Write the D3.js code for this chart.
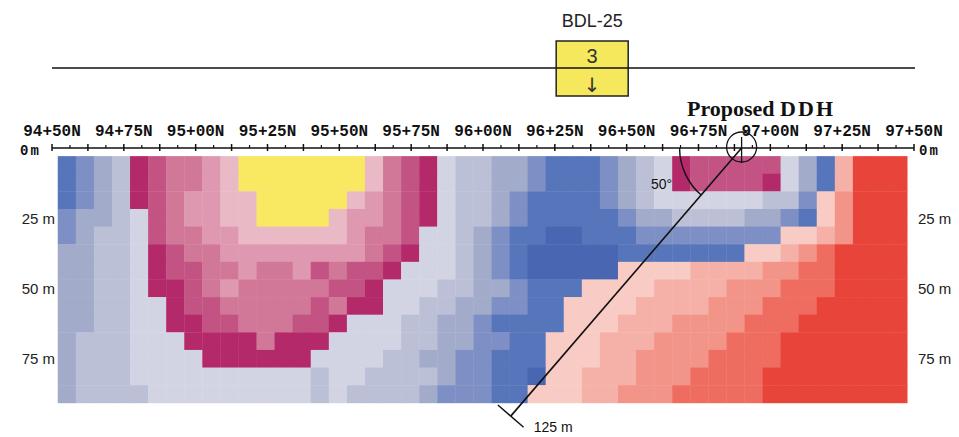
<!DOCTYPE html>
<html>
<head>
    <meta charset="UTF-8"/>
    <style>
        body {
            margin: 0;
            background: #fff;
        }

        svg {
            display: block;
        }

        .stn {
            font-family: "Liberation Mono", "DejaVu Sans Mono", monospace;
            font-size: 16px;
            font-weight: bold;
            fill: #111;
        }

        .zero {
            font-family: "Liberation Mono", "DejaVu Sans Mono", monospace;
            font-size: 14px;
            font-weight: bold;
            fill: #111;
        }

        .dep {
            font-family: "Liberation Sans", Arial, sans-serif;
            font-size: 15px;
            fill: #222;
        }
    </style>
</head>
<body>
<!-- Load d3.js -->
<script src="https://d3js.org/d3.v7.min.js"></script>
<div id="my_dataviz"></div>

<script>

    // stations along the line (metres) and their labels
    var stations = [9450, 9475, 9500, 9525, 9550, 9575, 9600, 9625, 9650, 9675, 9700, 9725, 9750];
    var stationLabels = ["94+50N", "94+75N", "95+00N", "95+25N", "95+50N", "95+75N", "96+00N",
        "96+25N", "96+50N", "96+75N", "97+00N", "97+25N", "97+50N"];
    var depthTicks = [25, 50, 75];

    // colour classes used in the section
    var classCodes = ["A", "B", "C", "D", "E", "F", "M", "N", "O", "P", "Q", "Y", "r", "s", "t", "u", "R"];
    var classColors = ["#4866b2", "#5675ba", "#7d8fc4", "#a2abca", "#bcc0d7", "#d3d4e3",
        "#b4296a", "#c35383", "#d17898", "#de98b0", "#e9b9c6", "#f8e862",
        "#f8cbc4", "#f5b0a8", "#f29488", "#ee6d60", "#e8443a"];

    // one string per row of cells, top to bottom, one letter per cell
    var sectionRows = [
        "BCDEMNOOPQYYYYYYYQONMFEEDDCBBBCDEFMNNNNNFDBsRRR",
        "BCDEMNOOPQYYYYYYYQONMFEEDDCBBBCDEFMNNNNMFDBsRRR",
        "BCDEMNOPPQQYYYYYQPONMFEEDCBBBBCDEFFFFFFEECrtRRR",
        "CDDEFNOPPQQYYYYQPPONMFEEDCBBBBBCDDEEEEDDCBrtRRR",
        "CDEEFNOOPPQQQQQQPOONFFEDCBBAABBBCCCCCCCCrrstRRR",
        "DDEEFMNOOPPPPPPPPONMFFEDCBAAAAABBBBBBBrrstuRRRR",
        "DDEEFMNNOOPOOPNONNMFFFEDCBAAAAArrrrssssttuuRRRR",
        "DDEEFMMNOPOOOOONNMFFFEEDDCBBBrrrrsssstttuuuRRRR",
        "DDEEFFMNNOOOOONOMMFFEEDDCCBBrrrrsssstttuuuRRRRR",
        "DDEEFFMMNNOOONNMFFFEEDDCBBBBrrrsssttttuuuRRRRRR",
        "DEEEFFFMMMMOMMMFFFFEEDDCCBBrrrsssttttuuuRRRRRRR",
        "DEEEFFFFMMMMMMFFFFEEDDCCBBBrrrssttttuuuuRRRRRRR",
        "DEEEFFFFFFFFFFEFFEEEEDCCBBArrssstttuuuuRRRRRRRR",
        "DEEEEFFFFFFFFFEFEEEEDCCCBBrrrsstttuuuuuRRRRRRRR"
    ];

    // proposed hole and existing hole above the line
    var holeStation = 9690, holeDip = 50, holeLength = 125;
    var oldHoleStation = 9638, oldHoleName = "BDL-25", oldHoleNumber = "3";

    var width = 959, height = 437;

    var svg = d3.select("#my_dataviz")
        .append("svg")
        .attr("width", width)
        .attr("height", height)
        .style("background", "#fff");

    // station -> x, depth -> y
    var x = d3.scaleLinear().domain([9450, 9750]).range([52, 914]);
    var y = d3.scaleLinear().domain([0, 75]).range([148, 358]);

    // extent of the cell grid in stations / metres
    var gridLeft = 9452, gridRight = 9747.6, gridTop = 2.9, gridBottom = 91;
    var nCols = sectionRows[0].length;

    var col = d3.scaleBand().domain(d3.range(nCols)).range([x(gridLeft), x(gridRight)]);
    var row = d3.scaleBand().domain(d3.range(sectionRows.length)).range([y(gridTop), y(gridBottom)]);
    var color = d3.scaleOrdinal().domain(classCodes).range(classColors);

    var cells = [];
    sectionRows.forEach(function (s, r) {
        s.split("").forEach(function (c, i) {
            cells.push({row: r, col: i, code: c});
        });
    });

    // the section cells
    svg.append("g")
        .selectAll("rect")
        .data(cells)
        .enter()
        .append("rect")
        .attr("x", function (d) { return col(d.col); })
        .attr("y", function (d) { return row(d.row); })
        .attr("width", col.bandwidth() + 0.4)
        .attr("height", row.bandwidth() + 0.4)
        .attr("fill", function (d) { return color(d.code); });

    // station axis along the surface
    var axisY = y(0);
    var axis = svg.append("g");
    axis.append("line")
        .attr("x1", x(9450)).attr("x2", x(9750))
        .attr("y1", axisY).attr("y2", axisY)
        .attr("stroke", "#111").attr("stroke-width", 1.5);

    var tickStations = d3.range(9450, 9750.01, 6.25);
    axis.selectAll("ticks")
        .data(tickStations)
        .enter()
        .append("line")
        .attr("x1", function (d) { return x(d); })
        .attr("x2", function (d) { return x(d); })
        .attr("y1", function (d) { return (d - 9450) % 12.5 === 0 ? axisY - 4 : axisY - 3; })
        .attr("y2", function (d) { return (d - 9450) % 12.5 === 0 ? axisY + 3 : axisY; })
        .attr("stroke", "#111")
        .attr("stroke-width", function (d) { return (d - 9450) % 12.5 === 0 ? 1.5 : 1.2; });

    axis.selectAll("labels")
        .data(stations)
        .enter()
        .append("text")
        .attr("class", "stn")
        .attr("x", function (d) { return x(d); })
        .attr("y", 136)
        .attr("text-anchor", "middle")
        .text(function (d, i) { return stationLabels[i]; });

    axis.append("text").attr("class", "zero").attr("x", 20).attr("y", 155)
        .attr("letter-spacing", "2").text("0m");
    axis.append("text").attr("class", "zero").attr("x", 919).attr("y", 155)
        .attr("letter-spacing", "2").text("0m");

    // depth labels both sides
    svg.selectAll("depl")
        .data(depthTicks)
        .enter()
        .append("text")
        .attr("class", "dep")
        .attr("x", 55)
        .attr("y", function (d) { return y(d) + 6; })
        .attr("text-anchor", "end")
        .text(function (d) { return d + " m"; });

    svg.selectAll("depr")
        .data(depthTicks)
        .enter()
        .append("text")
        .attr("class", "dep")
        .attr("x", 918)
        .attr("y", function (d) { return y(d) + 6; })
        .text(function (d) { return d + " m"; });

    // plan line with the old hole box
    var bx = x(oldHoleStation);
    svg.append("line")
        .attr("x1", x(9450)).attr("x2", x(9750) + 1)
        .attr("y1", 68).attr("y2", 68)
        .attr("stroke", "#111").attr("stroke-width", 1.5);
    svg.append("rect")
        .attr("x", bx - 36).attr("y", 41)
        .attr("width", 72).attr("height", 55)
        .attr("fill", "#f6e85c")
        .attr("stroke", "#222").attr("stroke-width", 1.5);
    svg.append("line")
        .attr("x1", bx - 36).attr("x2", bx + 36)
        .attr("y1", 68).attr("y2", 68)
        .attr("stroke", "#111").attr("stroke-width", 1.5);
    svg.append("text")
        .attr("x", bx).attr("y", 27)
        .attr("text-anchor", "middle")
        .style("font-family", "'Liberation Sans', Arial, sans-serif")
        .style("font-size", "18px").attr("fill", "#222")
        .text(oldHoleName);
    svg.append("text")
        .attr("x", bx).attr("y", 63)
        .attr("text-anchor", "middle")
        .style("font-family", "'Liberation Sans', Arial, sans-serif")
        .style("font-size", "20px").attr("fill", "#333")
        .text(oldHoleNumber);
    svg.append("text")
        .attr("x", bx).attr("y", 92)
        .attr("text-anchor", "middle")
        .style("font-family", "'DejaVu Sans', sans-serif")
        .style("font-size", "20px").attr("fill", "#333")
        .text("\u2193");

    // proposed hole: collar, trace, dip arc
    var rad = holeDip * Math.PI / 180;
    var cx = x(holeStation), cy = y(0);
    var ex = x(holeStation - holeLength * Math.cos(rad));
    var ey = y(holeLength * Math.sin(rad));
    var len = Math.hypot(ex - cx, ey - cy);
    var ux = (ex - cx) / len, uy = (ey - cy) / len;

    var hole = svg.append("g").attr("stroke", "#111").attr("fill", "none");
    hole.append("line")
        .attr("x1", cx).attr("y1", cy).attr("x2", ex).attr("y2", ey)
        .attr("stroke-width", 1.6);
    hole.append("line")
        .attr("x1", ex + uy * 17).attr("y1", ey - ux * 17)
        .attr("x2", ex - uy * 17).attr("y2", ey + ux * 17)
        .attr("stroke-width", 1.4);
    hole.append("circle")
        .attr("cx", cx).attr("cy", cy - 1).attr("r", 15)
        .attr("stroke-width", 1.3);
    hole.append("line")
        .attr("x1", cx).attr("x2", cx).attr("y1", cy - 11).attr("y2", cy + 15)
        .attr("stroke-width", 1.3);

    var ar = 62;
    hole.append("path")
        .attr("d", "M" + (cx + ux * ar) + "," + (cy + uy * ar) +
            " A" + ar + "," + ar + " 0 0 1 " + (cx - ar) + "," + cy)
        .attr("stroke-width", 1.4);

    svg.append("text")
        .attr("x", 651).attr("y", 189)
        .style("font-family", "'Liberation Sans', Arial, sans-serif")
        .style("font-size", "14px").attr("fill", "#111")
        .text(holeDip + "\u00b0");

    svg.append("text")
        .attr("x", ex + 23).attr("y", ey + 16)
        .style("font-family", "'Liberation Sans', Arial, sans-serif")
        .style("font-size", "14px").attr("fill", "#111")
        .text(holeLength + " m");

    var title = svg.append("text")
        .attr("x", 687).attr("y", 116)
        .style("font-family", "'Liberation Serif', 'Times New Roman', serif")
        .style("font-size", "22px").style("font-weight", "bold")
        .attr("fill", "#111");
    title.append("tspan").text("Proposed ");
    title.append("tspan").attr("letter-spacing", "2").text("DDH");

</script>
</body>
</html>
